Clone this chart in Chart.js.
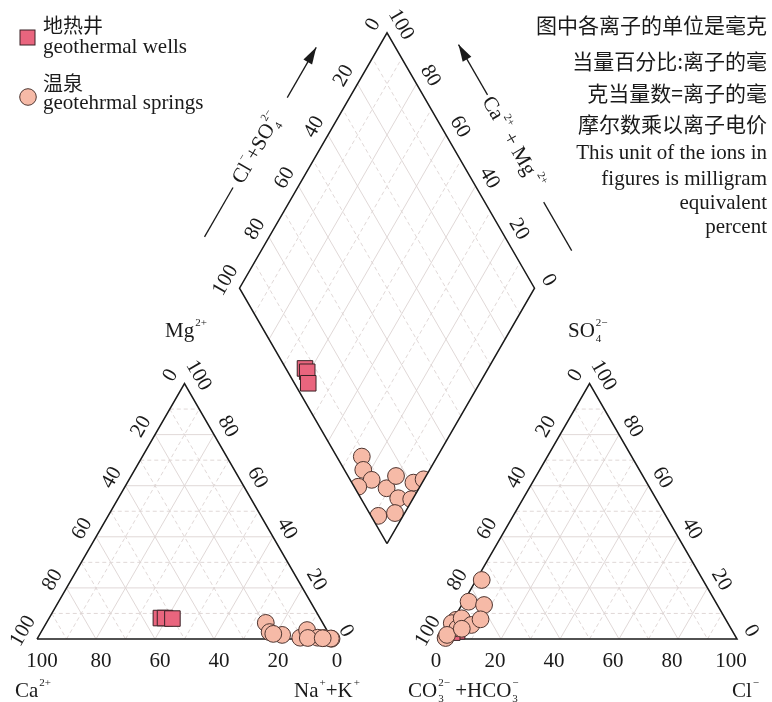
<!DOCTYPE html>
<html>
<head>
<meta charset="utf-8">
<script src="https://cdn.jsdelivr.net/npm/chart.js@4.4.1/dist/chart.umd.min.js"></script>
<style>
  body { margin: 0; background: #fff; }
  canvas { display: block; }
</style>
</head>
<body>
<canvas id="piper" width="772" height="702"></canvas>
<script>
// milliequivalent percent
// 地热井 geothermal wells
const wellCa   = [53.9, 52.5, 50.1];
const wellMg   = [8.2, 8.2, 8.0];
const wellNaK  = [37.9, 39.3, 41.9];
const wellHCO3 = [93.5, 93.4, 95.3];
const wellSO4  = [3.5, 3.0, 2.5];
const wellCl   = [3.0, 3.6, 2.2];

// 温泉 springs
const springCa   = [19.3, 19.8, 16.1, 18.9, 10.5, 6.7, 2.6, 0.1, 4.6, 0.3, 8.0, 3.0];
const springMg   = [6.3, 2.7, 1.6, 2.0, 0.5, 3.5, 0.4, 0.1, 0.5, 0.2, 0.4, 0.3];
const springNaK  = [74.4, 77.5, 82.3, 79.1, 89.0, 89.8, 97.0, 99.8, 94.9, 99.5, 91.6, 96.7];
const springHCO3 = [91.5, 93.6, 92.7, 98.6, 89.3, 83.7, 79.1, 75.0, 87.3, 83.1, 97.5, 91.3];
const springSO4  = [7.5, 6.2, 4.2, 0.4, 8.1, 14.6, 13.3, 23.1, 5.5, 7.7, 1.6, 4.0];
const springCl   = [1.0, 0.2, 3.1, 1.0, 2.6, 1.7, 7.6, 1.9, 7.2, 9.2, 0.9, 4.7];

const tickUp   = ['0', '20', '40', '60', '80', '100'];
const tickDown = ['100', '80', '60', '40', '20', '0'];

const noteLines = ['图中各离子的单位是毫克', '当量百分比:离子的毫', '克当量数=离子的毫', '摩尔数乘以离子电价',
  'This unit of the ions in', 'figures is milligram', 'equivalent', 'percent'];

// layout
const H = Math.sqrt(3) / 2;
const GAP = 37.3;          // space between the two triangles (percent units)
const PX = 2.95;           // pixels per percent unit
const X0 = 37, Y0 = 639;   // pixel of the Ca corner

function cation(ca, mg, na) {
  const s = ca + mg + na;
  return { x: (na + mg / 2) / s * 100, y: mg / s * 100 * H };
}
function anion(hco3, so4, cl) {
  const s = hco3 + so4 + cl;
  return { x: 100 + GAP + (cl + so4 / 2) / s * 100, y: so4 / s * 100 * H };
}
function diamond(p, q) {
  return { x: 100 + GAP / 2 + (q - p) / 2, y: (GAP + p + q) * H };
}
function project(ca, mg, na, hco3, so4, cl) {
  const p = (ca + mg) / (ca + mg + na) * 100;
  const q = (so4 + cl) / (hco3 + so4 + cl) * 100;
  return diamond(p, q);
}

const gap = { x: NaN, y: NaN };
const gridSolid = [], gridDash = [], outline = [], diaOutline = [];
for (let k = 10; k < 100; k += 10) {
  const arr = k % 20 === 0 ? gridSolid : gridDash;
  arr.push(cation(100 - k, k, 0), cation(0, k, 100 - k), gap);
  arr.push(cation(k, 100 - k, 0), cation(k, 0, 100 - k), gap);
  arr.push(cation(100 - k, 0, k), cation(0, 100 - k, k), gap);
  arr.push(anion(100 - k, k, 0), anion(0, k, 100 - k), gap);
  arr.push(anion(k, 100 - k, 0), anion(k, 0, 100 - k), gap);
  arr.push(anion(100 - k, 0, k), anion(0, 100 - k, k), gap);
  arr.push(diamond(k, 0), diamond(k, 100), gap);
  arr.push(diamond(0, k), diamond(100, k), gap);
}
outline.push(cation(100, 0, 0), cation(0, 0, 100), cation(0, 100, 0), cation(100, 0, 0), gap);
outline.push(anion(100, 0, 0), anion(0, 0, 100), anion(0, 100, 0), anion(100, 0, 0), gap);
const diaCorners = [diamond(0, 0), diamond(0, 100), diamond(100, 100), diamond(100, 0)];
diaOutline.push(...diaCorners, diaCorners[0]);

const wellPts = [], springPts = [], springDia = [];
wellCa.forEach((v, i) => {
  wellPts.push(cation(v, wellMg[i], wellNaK[i]));
  wellPts.push(anion(wellHCO3[i], wellSO4[i], wellCl[i]));
  wellPts.push(project(v, wellMg[i], wellNaK[i], wellHCO3[i], wellSO4[i], wellCl[i]));
});
springCa.forEach((v, i) => {
  springPts.push(cation(v, springMg[i], springNaK[i]));
  springPts.push(anion(springHCO3[i], springSO4[i], springCl[i]));
  springDia.push(project(v, springMg[i], springNaK[i], springHCO3[i], springSO4[i], springCl[i]));
});

const wellStyle = { pointStyle: 'rect', pointRadius: 11, backgroundColor: '#e9657e', borderColor: '#3a2226', borderWidth: 1 };
const springStyle = { pointStyle: 'circle', pointRadius: 8.4, backgroundColor: '#f6baa7', borderColor: '#4e3530', borderWidth: 1 };

function lineSet(data, color, width, dash, order) {
  return { data, showLine: true, pointRadius: 0, borderColor: color, borderWidth: width, borderDash: dash, order, spanGaps: false };
}

const SERIF = '"Liberation Serif", "Times New Roman", serif';
const CJK = '"Noto Sans CJK SC", sans-serif';

// text with sub/superscripts: parts = [[text, sub, sup], ...]
function rich(ctx, parts, x, y, align) {
  const big = '21px ' + SERIF, small = '11px ' + SERIF;
  const widths = parts.map(p => {
    ctx.font = big;
    const a = ctx.measureText(p[0]).width;
    ctx.font = small;
    const b = Math.max(ctx.measureText(p[1] || '').width, ctx.measureText(p[2] || '').width);
    return [a, b + (p[1] || p[2] ? 1 : 0)];
  });
  const total = widths.reduce((s, w) => s + w[0] + w[1], 0);
  let cx = align === 'center' ? x - total / 2 : align === 'right' ? x - total : x;
  ctx.textAlign = 'left';
  ctx.textBaseline = 'alphabetic';
  parts.forEach((p, i) => {
    ctx.font = big;
    ctx.fillText(p[0], cx, y);
    cx += widths[i][0] + 1;
    ctx.font = small;
    if (p[1]) ctx.fillText(p[1], cx, y + 5);
    if (p[2]) ctx.fillText(p[2], cx, y - 11);
    cx += widths[i][1] - 1;
  });
}

function px(chart, pt) {
  return { x: chart.scales.x.getPixelForValue(pt.x), y: chart.scales.y.getPixelForValue(pt.y) };
}

function edgeLabels(ctx, chart, top, bottom, texts, side) {
  const a = px(chart, top), b = px(chart, bottom);
  const nx = side * H, ny = -0.5, off = 17;
  ctx.font = '21px ' + SERIF;
  ctx.textAlign = 'center';
  ctx.textBaseline = 'middle';
  texts.forEach((t, i) => {
    const f = i / (texts.length - 1);
    const x = a.x + (b.x - a.x) * f + nx * off;
    const y = a.y + (b.y - a.y) * f + ny * off;
    ctx.save();
    ctx.translate(x, y);
    ctx.rotate(side * Math.PI / 3);
    ctx.fillText(t, 0, 1);
    ctx.restore();
  });
}

function along(base, u, n, t, off) {
  return { x: base.x + u.x * t + n.x * off, y: base.y + u.y * t + n.y * off };
}
function arrow(ctx, a, b) {
  ctx.beginPath();
  ctx.moveTo(a.x, a.y);
  ctx.lineTo(b.x, b.y);
  ctx.stroke();
  const ang = Math.atan2(b.y - a.y, b.x - a.x), len = 17, w = 5;
  ctx.beginPath();
  ctx.moveTo(b.x, b.y);
  ctx.lineTo(b.x - len * Math.cos(ang) + w * Math.sin(ang), b.y - len * Math.sin(ang) - w * Math.cos(ang));
  ctx.lineTo(b.x - len * Math.cos(ang) - w * Math.sin(ang), b.y - len * Math.sin(ang) + w * Math.cos(ang));
  ctx.closePath();
  ctx.fill();
}

const piperDeco = {
  id: 'piperDeco',
  beforeDatasetDraw(chart, args) {
    if (!chart.data.datasets[args.index].clipDiamond) return;
    const ctx = chart.ctx;
    ctx.save();
    ctx.beginPath();
    diaCorners.forEach((c, i) => {
      const p = px(chart, c);
      if (i) ctx.lineTo(p.x, p.y); else ctx.moveTo(p.x, p.y);
    });
    ctx.closePath();
    ctx.clip();
  },
  afterDatasetDraw(chart, args) {
    if (chart.data.datasets[args.index].clipDiamond) chart.ctx.restore();
  },
  afterDraw(chart) {
    const ctx = chart.ctx;
    ctx.save();
    ctx.fillStyle = '#1a1a1a';
    ctx.strokeStyle = '#1a1a1a';

    // edge tick labels
    edgeLabels(ctx, chart, cation(0, 100, 0), cation(100, 0, 0), tickUp, -1);
    edgeLabels(ctx, chart, cation(0, 100, 0), cation(0, 0, 100), tickDown, 1);
    edgeLabels(ctx, chart, anion(0, 100, 0), anion(100, 0, 0), tickUp, -1);
    edgeLabels(ctx, chart, anion(0, 100, 0), anion(0, 0, 100), tickDown, 1);
    edgeLabels(ctx, chart, diamond(100, 100), diamond(100, 0), tickUp, -1);
    edgeLabels(ctx, chart, diamond(100, 100), diamond(0, 100), tickDown, 1);

    // bottom tick labels
    ctx.font = '21px ' + SERIF;
    ctx.textAlign = 'center';
    ctx.textBaseline = 'middle';
    tickDown.forEach(t => {
      const v = +t, p = px(chart, cation(v, 0, 100 - v));
      ctx.fillText(t, p.x + 5, p.y + 22);
    });
    tickUp.forEach(t => {
      const v = +t, p = px(chart, anion(100 - v, 0, v));
      ctx.fillText(t, p.x - 6, p.y + 22);
    });

    // corner names
    rich(ctx, [['Mg', '', '2+']], 165, 337, 'left');
    rich(ctx, [['SO', '4', '2\u2212']], 568, 337, 'left');
    rich(ctx, [['Ca', '', '2+']], 15, 697, 'left');
    rich(ctx, [['Na', '', '+'], ['+K', '', '+']], 294, 697, 'left');
    rich(ctx, [['CO', '3', '2\u2212'], [' +HCO', '3', '\u2212']], 408, 697, 'left');
    rich(ctx, [['Cl', '', '\u2212']], 732, 697, 'left');

    // diamond axis names with arrows
    const L = px(chart, diaCorners[3]), T = px(chart, diaCorners[2]), R = px(chart, diaCorners[1]);
    const dl = Math.hypot(T.x - L.x, T.y - L.y), dr = Math.hypot(T.x - R.x, T.y - R.y);
    const ul = { x: (T.x - L.x) / dl, y: (T.y - L.y) / dl }, nl = { x: ul.y, y: -ul.x };
    const ur = { x: (T.x - R.x) / dr, y: (T.y - R.y) / dr }, nr = { x: -ur.y, y: ur.x };
    ctx.lineWidth = 1.3;
    arrow(ctx, along(L, ul, nl, 189, 54), along(L, ul, nl, 247, 54));
    ctx.beginPath();
    let a = along(L, ul, nl, 27, 56), b = along(L, ul, nl, 84, 56);
    ctx.moveTo(a.x, a.y); ctx.lineTo(b.x, b.y); ctx.stroke();
    arrow(ctx, along(R, ur, nr, 191, 56), along(R, ur, nr, 249, 56));
    ctx.beginPath();
    a = along(R, ur, nr, 14, 51); b = along(R, ur, nr, 70, 51);
    ctx.moveTo(a.x, a.y); ctx.lineTo(b.x, b.y); ctx.stroke();

    let c = along(L, ul, nl, 130, 56);
    ctx.save();
    ctx.translate(c.x, c.y);
    ctx.rotate(-Math.PI / 3);
    rich(ctx, [['Cl', '', '\u2212'], ['+SO', '4', '2\u2212']], 0, 7, 'center');
    ctx.restore();
    c = along(R, ur, nr, 137, 55);
    ctx.save();
    ctx.translate(c.x, c.y);
    ctx.rotate(Math.PI / 3);
    rich(ctx, [['Ca', '', '2+'], [' + Mg', '', ' 2+']], 0, 7, 'center');
    ctx.restore();

    // legend
    ctx.fillStyle = wellStyle.backgroundColor;
    ctx.strokeStyle = wellStyle.borderColor;
    ctx.lineWidth = 1;
    ctx.fillRect(20, 30, 15, 15);
    ctx.strokeRect(20, 30, 15, 15);
    ctx.fillStyle = springStyle.backgroundColor;
    ctx.strokeStyle = springStyle.borderColor;
    ctx.beginPath();
    ctx.arc(28, 97, 8.3, 0, Math.PI * 2);
    ctx.fill();
    ctx.stroke();
    ctx.fillStyle = '#1a1a1a';
    ctx.textAlign = 'left';
    ctx.textBaseline = 'middle';
    ctx.font = '20px ' + CJK;
    ctx.fillText('地热井', 43, 25.5);
    ctx.fillText('温泉', 43, 83.5);
    ctx.textBaseline = 'alphabetic';
    ctx.font = '21px ' + SERIF;
    ctx.fillText('geothermal wells', 43, 53);
    ctx.fillText('geotehrmal springs', 43, 109);

    // note on units
    ctx.textAlign = 'right';
    ctx.textBaseline = 'middle';
    ctx.font = '21px ' + CJK;
    [25, 61, 93, 124].forEach((y, i) => ctx.fillText(noteLines[i], 767, y));
    ctx.textBaseline = 'alphabetic';
    ctx.font = '21px ' + SERIF;
    [159, 185, 209, 233].forEach((y, i) => ctx.fillText(noteLines[i + 4], 767, y));
    ctx.restore();
  }
};

new Chart(document.getElementById('piper'), {
  type: 'scatter',
  data: {
    datasets: [
      Object.assign({ label: '温泉', data: springDia, order: 0, clipDiamond: true }, springStyle),
      Object.assign({ label: '温泉', data: springPts, order: 0 }, springStyle),
      Object.assign({ label: '地热井', data: wellPts, order: 1 }, wellStyle),
      lineSet(diaOutline, '#1a1a1a', 1.5, [], -1),
      lineSet(outline, '#1a1a1a', 1.5, [], 2),
      lineSet(gridSolid, '#dcd4d2', 0.9, [], 3),
      lineSet(gridDash, '#dcd4d2', 0.9, [4, 3], 3)
    ]
  },
  options: {
    responsive: false,
    animation: false,
    devicePixelRatio: 1,
    events: [],
    layout: { padding: 0, autoPadding: false },
    scales: {
      x: { type: 'linear', display: false, min: -X0 / PX, max: (772 - X0) / PX },
      y: { type: 'linear', display: false, min: (Y0 - 702) / PX, max: Y0 / PX }
    },
    plugins: { legend: { display: false }, tooltip: { enabled: false } }
  },
  plugins: [piperDeco]
});
</script>
</body>
</html>
